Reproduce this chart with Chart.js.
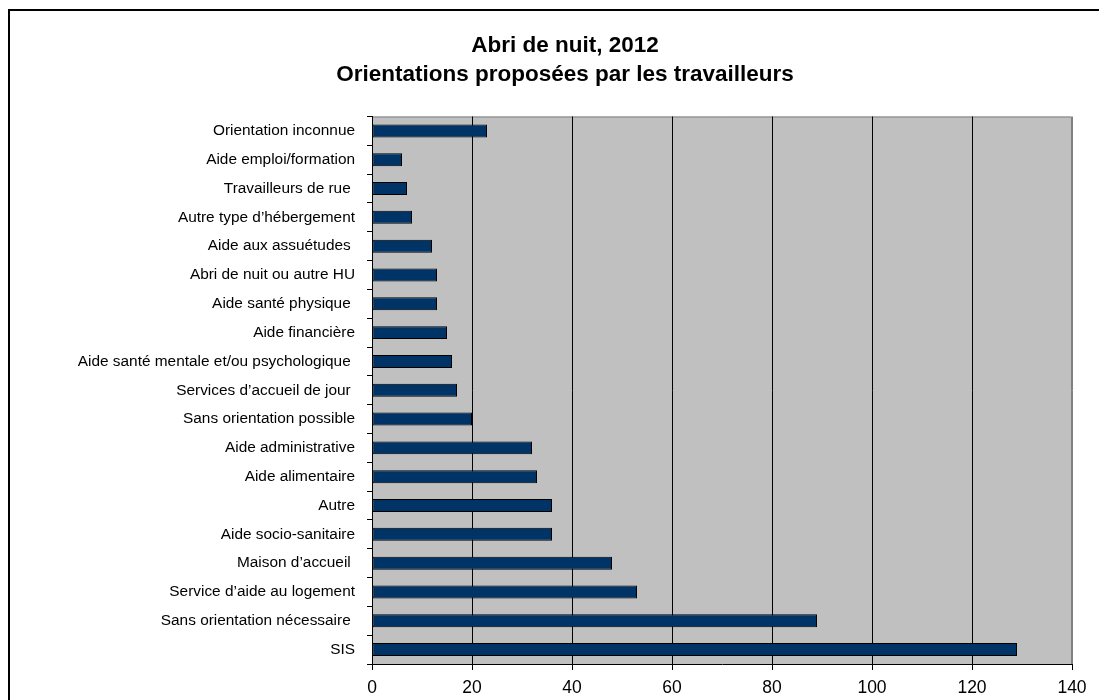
<!DOCTYPE html>
<html>
<head>
<meta charset="utf-8">
<script src="https://cdn.jsdelivr.net/npm/chart.js@4/dist/chart.umd.min.js"></script>
<style>
  html, body { margin: 0; padding: 0; background: #fff; overflow: hidden; }
  #frame {
    position: absolute; left: 8px; top: 9px;
    width: 1110px; height: 720px;
    border: 2px solid #000;
  }
  #chart { display: block; }
</style>
</head>
<body>
<div id="frame"><canvas id="chart" width="1110" height="720"></canvas></div>
<script>
// categories, top to bottom
const labels = [
  'Orientation inconnue',
  'Aide emploi/formation',
  'Travailleurs de rue ',
  'Autre type d’hébergement',
  'Aide aux assuétudes ',
  'Abri de nuit ou autre HU',
  'Aide santé physique ',
  'Aide financière',
  'Aide santé mentale et/ou psychologique ',
  'Services d’accueil de jour ',
  'Sans orientation possible',
  'Aide administrative',
  'Aide alimentaire',
  'Autre',
  'Aide socio-sanitaire',
  'Maison d’accueil ',
  'Service d’aide au logement',
  'Sans orientation nécessaire ',
  'SIS'
];
const counts = [23, 6, 7, 8, 12, 13, 13, 15, 16, 17, 20, 32, 33, 36, 36, 48, 53, 89, 129];
const titleLines = ['Abri de nuit, 2012', 'Orientations proposées par les travailleurs'];
const xMin = 0, xMax = 140, xStep = 20;

const FONT = '"Liberation Sans", Arial, sans-serif';

// grey plot background with a grey top/right edge
const plotBg = {
  id: 'plotBg',
  beforeDraw(chart) {
    const { ctx, chartArea: a } = chart;
    ctx.save();
    ctx.fillStyle = '#c0c0c0';
    ctx.fillRect(a.left, a.top, a.right - a.left, a.bottom - a.top);
    ctx.strokeStyle = '#808080';
    ctx.lineWidth = 1;
    ctx.beginPath();
    ctx.moveTo(a.left, a.top + 0.5);
    ctx.lineTo(a.right - 0.5, a.top + 0.5);
    ctx.lineTo(a.right - 0.5, a.bottom);
    ctx.stroke();
    ctx.restore();
  }
};

new Chart(document.getElementById('chart'), {
  type: 'bar',
  data: {
    labels: labels,
    datasets: [{
      data: counts,
      backgroundColor: '#003366',
      borderColor: '#000',
      borderWidth: 1,
      borderSkipped: false,
      barPercentage: 0.45,
      categoryPercentage: 1
    }]
  },
  options: {
    indexAxis: 'y',
    responsive: false,
    animation: false,
    layout: { padding: 0 },
    plugins: {
      legend: { display: false },
      tooltip: { enabled: false },
      title: {
        display: true,
        text: titleLines,
        color: '#000',
        font: { family: FONT, size: 22.5, weight: 'bold', lineHeight: 1.3 },
        padding: { top: 20, bottom: 27 }
      }
    },
    scales: {
      x: {
        min: xMin, max: xMax,
        grid: {
          color: ctx => (ctx.tick && ctx.tick.value === xMax) ? '#808080' : '#000',
          lineWidth: 1,
          tickLength: 6,
          tickColor: '#000'
        },
        border: { color: '#000', width: 1 },
        ticks: {
          stepSize: xStep,
          color: '#000',
          padding: 8,
          font: { family: FONT, size: 17.5 }
        },
        afterFit(scale) {
          scale.height = 67;
          // keep room on the right of the plot without narrowing the title
          scale.paddingRight = 48;
        }
      },
      y: {
        grid: {
          offset: true,
          drawOnChartArea: false,
          tickLength: 5,
          color: '#000'
        },
        border: { color: '#000', width: 1 },
        ticks: {
          color: '#000',
          padding: 12,
          font: { family: FONT, size: 15.4 }
        },
        afterFit(scale) { scale.width = 362; }
      }
    }
  },
  plugins: [plotBg]
});
</script>
</body>
</html>
